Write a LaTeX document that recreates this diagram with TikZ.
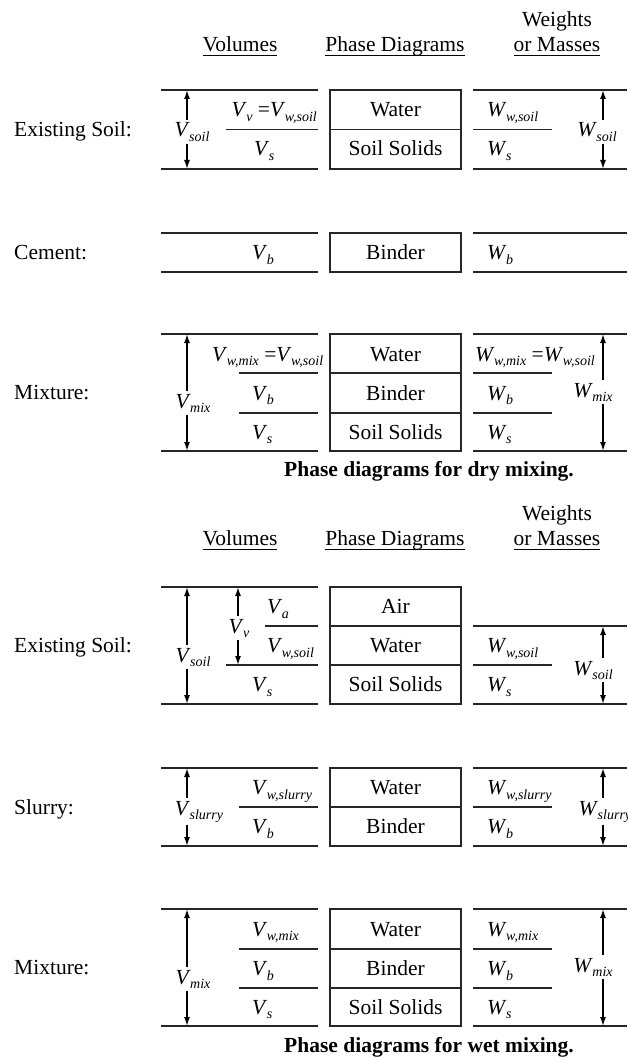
\documentclass[tikz,border=0pt]{standalone}
\usepackage{fontspec}
\setmainfont{Liberation Serif}
\usetikzlibrary{arrows.meta}
\newcommand{\SB}[2]{\textit{#1}\kern-0.5pt\raisebox{-4.5pt}{\fontsize{14}{14}\selectfont\textit{#2}}}
\newcommand{\uln}[1]{\sbox0{#1}\rlap{\rule[-4.5pt]{\wd0}{1pt}}\usebox0}
\begin{document}
\begin{tikzpicture}[x=1pt,y=-1pt,
  font=\fontsize{21.5}{25}\selectfont,
  ln/.style={line width=1.4pt,draw=black!85},
  phbox/.style={draw=black!85,line width=1.4pt},
  txt/.style={inner sep=0pt,anchor=base},
  lft/.style={inner sep=0pt,anchor=base west},
  rgt/.style={inner sep=0pt,anchor=base east},
  dimarr/.style={line width=1.5pt,{Latex[length=9pt,width=6pt]}-{Latex[length=9pt,width=6pt]}},
  arrlab/.style={fill=white,inner sep=2.5pt,anchor=base},
  caption/.style={inner sep=0pt,anchor=base,font=\fontsize{21.5}{25}\selectfont\bfseries}]
\useasboundingbox (0,0) rectangle (627,1059);
\clip (0,0) rectangle (627,1059);

% ===== DRY MIXING =====
\node[txt] (h1v) at (240,52) {\uln{Volumes}};
\node[txt] (h1p) at (395,52) {\uln{Phase Diagrams}};
\node[txt] (h1w) at (557,27) {Weights};
\node[txt] (h1m) at (557,52) {\uln{or Masses}};

% Existing soil (dry)
\node[lft] (l1) at (14,136.5) {Existing Soil:};
\draw[ln] (161,90) -- (318,90) (226,129.5) -- (318,129.5) (161,169) -- (318,169);
\draw[phbox] (330,90) rectangle (461,169);
\draw[ln] (330,129.5) -- (461,129.5);
\node[txt] (b1w) at (395.5,117) {Water};
\node[txt] (b1s) at (395.5,156) {Soil Solids};
\draw[ln] (473,90) -- (627,90) (473,129.5) -- (552,129.5) (473,169) -- (627,169);
\coordinate (a1t) at (187,90); \coordinate (a1b) at (187,169);
\draw[dimarr] (a1t) -- (a1b);
\coordinate (c1t) at (603,90); \coordinate (c1b) at (603,169);
\draw[dimarr] (c1t) -- (c1b);
\node[arrlab] (v1) at (192,137) {\SB{V}{soil}};
\node[rgt] (v1v) at (317,117) {\SB{V}{v} =\SB{V}{w,soil}};
\node[lft] (v1s) at (254,156) {\SB{V}{s}};
\node[arrlab] (w1) at (597,137) {\SB{W}{soil}};
\node[lft] (w1w) at (487,117) {\SB{W}{w,soil}};
\node[lft] (w1s) at (487,156) {\SB{W}{s}};

% Cement
\node[lft] (l2) at (14,259.5) {Cement:};
\draw[ln] (161,233) -- (318,233) (161,272) -- (318,272);
\draw[phbox] (330,233) rectangle (461,272);
\node[txt] (b2b) at (395.5,259.5) {Binder};
\draw[ln] (473,233) -- (627,233) (473,272) -- (627,272);
\node[lft] (v2b) at (252,259.5) {\SB{V}{b}};
\node[lft] (w2b) at (487,259.5) {\SB{W}{b}};

% Mixture (dry)
\node[lft] (l3) at (14,399.5) {Mixture:};
\draw[ln] (161,334) -- (318,334) (239,373) -- (318,373) (239,413) -- (318,413) (161,451) -- (318,451);
\draw[phbox] (330,334) rectangle (461,451);
\draw[ln] (330,373) -- (461,373) (330,413) -- (461,413);
\node[txt] (b3w) at (395.5,361) {Water};
\node[txt] (b3b) at (395.5,400) {Binder};
\node[txt] (b3s) at (395.5,439) {Soil Solids};
\draw[ln] (473,334) -- (627,334) (473,373) -- (552,373) (473,413) -- (552,413) (473,451) -- (627,451);
\coordinate (a3t) at (187,334); \coordinate (a3b) at (187,451);
\draw[dimarr] (a3t) -- (a3b);
\coordinate (c3t) at (603,334); \coordinate (c3b) at (603,451);
\draw[dimarr] (c3t) -- (c3b);
\node[arrlab] (v3) at (193,408) {\SB{V}{mix}};
\node[arrlab] (w3) at (593,397) {\SB{W}{mix}};
\node[lft] (v3w) at (212,361) {\SB{V}{w,mix} =\SB{V}{w,soil}};
\node[lft] (v3b) at (252,400) {\SB{V}{b}};
\node[lft] (v3s) at (252,439) {\SB{V}{s}};
\node[lft] (w3w) at (475,361) {\SB{W}{w,mix} =\SB{W}{w,soil}};
\node[lft] (w3b) at (487,400) {\SB{W}{b}};
\node[lft] (w3s) at (487,439) {\SB{W}{s}};

\node[caption] (cap1) at (429,476) {Phase diagrams for dry mixing.};

% ===== WET MIXING =====
\node[txt] (h2v) at (240,545) {\uln{Volumes}};
\node[txt] (h2p) at (395,545) {\uln{Phase Diagrams}};
\node[txt] (h2w) at (557,520) {Weights};
\node[txt] (h2m) at (557,545) {\uln{or Masses}};

% Existing soil (wet)
\node[lft] (l4) at (14,652.5) {Existing Soil:};
\draw[ln] (161,587) -- (318,587) (265,626) -- (318,626) (226,665) -- (318,665) (161,704) -- (318,704);
\draw[phbox] (330,587) rectangle (461,704);
\draw[ln] (330,626) -- (461,626) (330,665) -- (461,665);
\node[txt] (b4a) at (395.5,613.5) {Air};
\node[txt] (b4w) at (395.5,652.5) {Water};
\node[txt] (b4s) at (395.5,691.5) {Soil Solids};
\draw[ln] (473,626) -- (627,626) (473,665) -- (552,665) (473,704) -- (627,704);
\coordinate (a4t) at (187,587); \coordinate (a4b) at (187,704);
\draw[dimarr] (a4t) -- (a4b);
\coordinate (d4t) at (238,587); \coordinate (d4b) at (238,665);
\draw[dimarr] (d4t) -- (d4b);
\coordinate (c4t) at (603,626); \coordinate (c4b) at (603,704);
\draw[dimarr] (c4t) -- (c4b);
\node[arrlab] (v4) at (193,662) {\SB{V}{soil}};
\node[arrlab] (v4v) at (239,633) {\SB{V}{v}};
\node[arrlab] (w4) at (593,675) {\SB{W}{soil}};
\node[lft] (v4a) at (267,613.5) {\SB{V}{a}};
\node[lft] (v4w) at (267,652.5) {\SB{V}{w,soil}};
\node[lft] (v4s) at (252,691.5) {\SB{V}{s}};
\node[lft] (w4w) at (487,652.5) {\SB{W}{w,soil}};
\node[lft] (w4s) at (487,691.5) {\SB{W}{s}};

% Slurry
\node[lft] (l5) at (14,814) {Slurry:};
\draw[ln] (161,768) -- (318,768) (239,807) -- (318,807) (161,846) -- (318,846);
\draw[phbox] (330,768) rectangle (461,846);
\draw[ln] (330,807) -- (461,807);
\node[txt] (b5w) at (395.5,794.5) {Water};
\node[txt] (b5b) at (395.5,833.5) {Binder};
\draw[ln] (473,768) -- (627,768) (473,807) -- (552,807) (473,846) -- (627,846);
\coordinate (a5t) at (187,768); \coordinate (a5b) at (187,846);
\draw[dimarr] (a5t) -- (a5b);
\coordinate (c5t) at (603,768); \coordinate (c5b) at (603,846);
\draw[dimarr] (c5t) -- (c5b);
\node[arrlab] (v5) at (199,815) {\SB{V}{slurry}};
\node[arrlab,anchor=base west] (w5) at (576,815) {\SB{W}{slurry}};
\node[lft] (v5w) at (252,794.5) {\SB{V}{w,slurry}};
\node[lft] (v5b) at (252,833.5) {\SB{V}{b}};
\node[lft] (w5w) at (487,794.5) {\SB{W}{w,slurry}};
\node[lft] (w5b) at (487,833.5) {\SB{W}{b}};

% Mixture (wet)
\node[lft] (l6) at (14,974.5) {Mixture:};
\draw[ln] (161,909) -- (318,909) (239,949) -- (318,949) (239,988) -- (318,988) (161,1026) -- (318,1026);
\draw[phbox] (330,909) rectangle (461,1026);
\draw[ln] (330,949) -- (461,949) (330,988) -- (461,988);
\node[txt] (b6w) at (395.5,936) {Water};
\node[txt] (b6b) at (395.5,975.5) {Binder};
\node[txt] (b6s) at (395.5,1014) {Soil Solids};
\draw[ln] (473,909) -- (627,909) (473,949) -- (552,949) (473,988) -- (552,988) (473,1026) -- (627,1026);
\coordinate (a6t) at (187,909); \coordinate (a6b) at (187,1026);
\draw[dimarr] (a6t) -- (a6b);
\coordinate (c6t) at (603,909); \coordinate (c6b) at (603,1026);
\draw[dimarr] (c6t) -- (c6b);
\node[arrlab] (v6) at (193,984) {\SB{V}{mix}};
\node[arrlab] (w6) at (593,972) {\SB{W}{mix}};
\node[lft] (v6w) at (252,936) {\SB{V}{w,mix}};
\node[lft] (v6b) at (252,975.5) {\SB{V}{b}};
\node[lft] (v6s) at (252,1014) {\SB{V}{s}};
\node[lft] (w6w) at (487,936) {\SB{W}{w,mix}};
\node[lft] (w6b) at (487,975.5) {\SB{W}{b}};
\node[lft] (w6s) at (487,1014) {\SB{W}{s}};

\node[caption] (cap2) at (429,1052) {Phase diagrams for wet mixing.};
\end{tikzpicture}
\end{document}
